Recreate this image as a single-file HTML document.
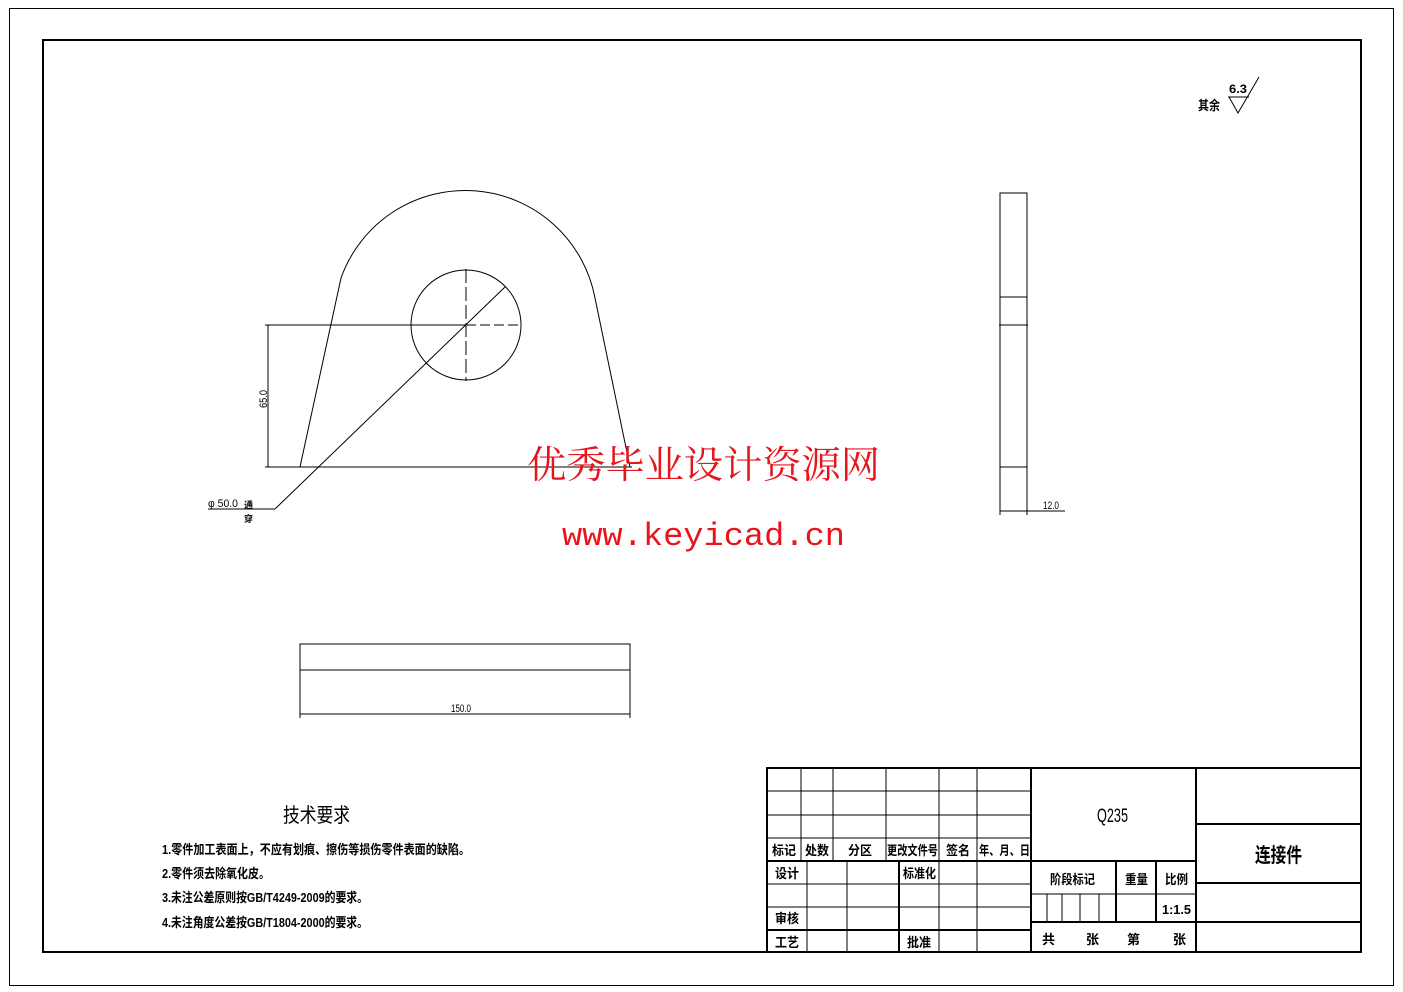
<!DOCTYPE html>
<html><head><meta charset="utf-8"><style>
html,body{margin:0;padding:0;background:#fff;}
svg{display:block;}
text{font-family:"Liberation Sans","Noto Sans CJK SC",sans-serif;fill:#000;}
.b{font-weight:bold;}
</style></head><body>
<svg width="1403" height="992" viewBox="0 0 1403 992" xmlns="http://www.w3.org/2000/svg">
<rect x="9.5" y="8.5" width="1384" height="977" fill="none" stroke="#000" stroke-width="1"/>
<rect x="43" y="40" width="1318" height="912" fill="none" stroke="#000" stroke-width="2"/>

<!-- roughness -->
<text x="1198" y="110" font-size="13" class="b" textLength="22" lengthAdjust="spacingAndGlyphs">其余</text>
<text x="1229" y="93" font-size="12" class="b" textLength="18" lengthAdjust="spacingAndGlyphs">6.3</text>
<path d="M1228 97 L1249 97 M1229 97 L1238 113 L1259 77" fill="none" stroke="#000" stroke-width="1"/>

<!-- front view -->
<g fill="none" stroke="#000" stroke-width="1">
<path d="M300 467 L341 278 A132 132 0 0 1 595 298 L630 467"/>
<circle cx="466" cy="325" r="55"/>
<line x1="265" y1="467" x2="632" y2="467"/>
<line x1="265" y1="325" x2="466" y2="325"/>
<line x1="466" y1="325" x2="521" y2="325" stroke-dasharray="10,4"/>
<line x1="466" y1="269" x2="466" y2="381" stroke-dasharray="14,4"/>
<line x1="268" y1="325" x2="268" y2="467"/>
<line x1="505" y1="287" x2="275" y2="509"/>
<line x1="275" y1="509" x2="208" y2="509"/>
</g>
<text transform="translate(267,408) rotate(-90)" font-size="11" textLength="18" lengthAdjust="spacingAndGlyphs">65.0</text>
<text x="208" y="507" font-size="11" textLength="30" lengthAdjust="spacingAndGlyphs">φ 50.0</text>
<text x="244" y="508" font-size="9" class="b">通</text>
<text x="244" y="522" font-size="9" class="b">穿</text>

<!-- side view -->
<g fill="none" stroke="#000" stroke-width="1">
<path d="M1000 515 L1000 193 L1027 193 L1027 515"/>
<line x1="1000" y1="297" x2="1027" y2="297"/>
<line x1="999" y1="325" x2="1028" y2="325"/>
<line x1="1000" y1="467" x2="1027" y2="467"/>
<line x1="1000" y1="511" x2="1065" y2="511"/>
</g>
<text x="1043" y="509" font-size="11" textLength="16" lengthAdjust="spacingAndGlyphs">12.0</text>

<!-- bottom view -->
<g fill="none" stroke="#000" stroke-width="1">
<path d="M300 718 L300 644 L630 644 L630 718"/>
<line x1="300" y1="670" x2="630" y2="670"/>
<line x1="300" y1="714" x2="630" y2="714"/>
</g>
<text x="451" y="712" font-size="11" textLength="20" lengthAdjust="spacingAndGlyphs">150.0</text>

<!-- watermark -->
<text x="527" y="478" font-size="38" style="font-family:'Noto Serif CJK SC',serif;fill:#e8141c" textLength="353" lengthAdjust="spacingAndGlyphs">优秀毕业设计资源网</text>
<text x="562" y="545" font-size="32" style="font-family:'Liberation Mono',monospace;fill:#e8141c" textLength="283" lengthAdjust="spacingAndGlyphs">www.keyicad.cn</text>

<!-- tech requirements -->
<text x="283" y="822" font-size="20" textLength="67" lengthAdjust="spacingAndGlyphs">技术要求</text>
<text x="162" y="854" font-size="13" class="b" textLength="308" lengthAdjust="spacingAndGlyphs">1.零件加工表面上，不应有划痕、擦伤等损伤零件表面的缺陷。</text>
<text x="162" y="878" font-size="13" class="b" textLength="108" lengthAdjust="spacingAndGlyphs">2.零件须去除氧化皮。</text>
<text x="162" y="902" font-size="13" class="b" textLength="206" lengthAdjust="spacingAndGlyphs">3.未注公差原则按GB/T4249-2009的要求。</text>
<text x="162" y="927" font-size="13" class="b" textLength="206" lengthAdjust="spacingAndGlyphs">4.未注角度公差按GB/T1804-2000的要求。</text>

<!-- title block -->
<g fill="none" stroke="#000">
<rect x="767" y="768" width="594" height="184" stroke-width="2"/>
<g stroke-width="1">
<line x1="767" y1="791" x2="1031" y2="791"/>
<line x1="767" y1="815" x2="1031" y2="815"/>
<line x1="767" y1="838" x2="1031" y2="838"/>
<line x1="767" y1="884" x2="1031" y2="884"/>
<line x1="767" y1="907" x2="1031" y2="907"/>
<line x1="801" y1="768" x2="801" y2="861"/>
<line x1="833" y1="768" x2="833" y2="861"/>
<line x1="886" y1="768" x2="886" y2="861"/>
<line x1="939" y1="768" x2="939" y2="952"/>
<line x1="977" y1="768" x2="977" y2="952"/>
<line x1="807" y1="861" x2="807" y2="952"/>
<line x1="847" y1="861" x2="847" y2="952"/>
<line x1="1047" y1="894" x2="1047" y2="922"/>
<line x1="1062" y1="894" x2="1062" y2="922"/>
<line x1="1080" y1="894" x2="1080" y2="922"/>
<line x1="1099" y1="894" x2="1099" y2="922"/>
<line x1="1031" y1="894" x2="1196" y2="894"/>
<line x1="1156" y1="894" x2="1196" y2="894"/>
</g>
<g stroke-width="2">
<line x1="767" y1="861" x2="1031" y2="861"/>
<line x1="767" y1="930" x2="1031" y2="930"/>
<line x1="899" y1="861" x2="899" y2="952"/>
<line x1="1031" y1="768" x2="1031" y2="952"/>
<line x1="1196" y1="768" x2="1196" y2="952"/>
<line x1="1031" y1="861" x2="1196" y2="861"/>
<line x1="1031" y1="922" x2="1196" y2="922"/>
<line x1="1116" y1="861" x2="1116" y2="922"/>
<line x1="1156" y1="861" x2="1156" y2="922"/>
<line x1="1196" y1="824" x2="1361" y2="824"/>
<line x1="1196" y1="883" x2="1361" y2="883"/>
<line x1="1196" y1="922" x2="1361" y2="922"/>
</g>
</g>
<g class="b" font-size="13">
<text x="772" y="855" textLength="24" lengthAdjust="spacingAndGlyphs">标记</text>
<text x="805" y="855" textLength="24" lengthAdjust="spacingAndGlyphs">处数</text>
<text x="848" y="855" textLength="24" lengthAdjust="spacingAndGlyphs">分区</text>
<text x="887" y="855" textLength="51" lengthAdjust="spacingAndGlyphs">更改文件号</text>
<text x="946" y="855" textLength="24" lengthAdjust="spacingAndGlyphs">签名</text>
<text x="979" y="855" textLength="51" lengthAdjust="spacingAndGlyphs">年、月、日</text>
<text x="775" y="878" textLength="24" lengthAdjust="spacingAndGlyphs">设计</text>
<text x="903" y="878" textLength="33" lengthAdjust="spacingAndGlyphs">标准化</text>
<text x="775" y="923" textLength="24" lengthAdjust="spacingAndGlyphs">审核</text>
<text x="775" y="947" textLength="24" lengthAdjust="spacingAndGlyphs">工艺</text>
<text x="907" y="947" textLength="24" lengthAdjust="spacingAndGlyphs">批准</text>
<text x="1050" y="884" textLength="45" lengthAdjust="spacingAndGlyphs">阶段标记</text>
<text x="1125" y="884" textLength="23" lengthAdjust="spacingAndGlyphs">重量</text>
<text x="1165" y="884" textLength="23" lengthAdjust="spacingAndGlyphs">比例</text>
<text x="1162" y="914" textLength="29" lengthAdjust="spacingAndGlyphs">1:1.5</text>
<text x="1042" y="944">共</text>
<text x="1086" y="944">张</text>
<text x="1127" y="944">第</text>
<text x="1173" y="944">张</text>
</g>
<text x="1097" y="822" font-size="19" textLength="31" lengthAdjust="spacingAndGlyphs">Q235</text>
<text x="1255" y="862" font-size="20" class="b" textLength="47" lengthAdjust="spacingAndGlyphs">连接件</text>
</svg>
</body></html>
